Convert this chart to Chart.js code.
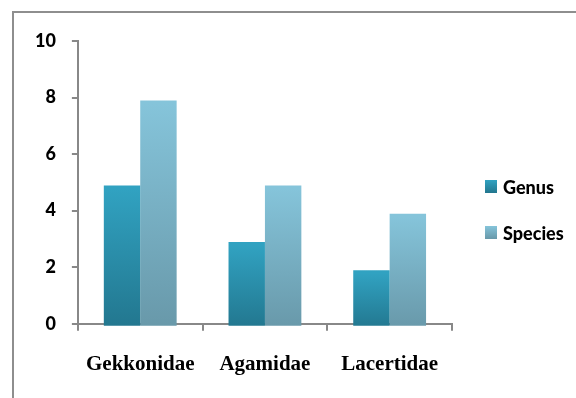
<!DOCTYPE html>
<html>
<head>
<meta charset="utf-8">
<script src="https://cdn.jsdelivr.net/npm/chart.js@4.4.1/dist/chart.umd.min.js"></script>
<style>
html,body{margin:0;padding:0;background:#fff;overflow:hidden;}
#wrap{position:relative;width:576px;height:398px;overflow:hidden;}
#frame{position:absolute;left:12px;top:11px;width:700px;height:600px;border:2px solid #8e8e8e;box-sizing:border-box;}
canvas{position:absolute;left:0;top:0;}
</style>
</head>
<body>
<div id="wrap">
<div id="frame"></div>
<canvas id="c" width="576" height="398"></canvas>
</div>
<script>
const categories = ["Gekkonidae", "Agamidae", "Lacertidae"];
const genusValues = [5, 3, 2];
const speciesValues = [8, 5, 4];
const yTicks = [0, 2, 4, 6, 8, 10];
const seriesNames = ["Genus", "Species"];
const seriesColors = [['#31a2c1', '#22768e'], ['#85c4da', '#6898a9']];

function barGradient(top, bottom) {
  return function(ctx) {
    const chart = ctx.chart;
    const ys = chart.scales && chart.scales.y;
    if (!ys || ctx.type !== 'data') return top;
    const v = ctx.parsed ? ctx.parsed.y : ctx.raw;
    const y0 = ys.getPixelForValue(0);
    const y1 = ys.getPixelForValue(v);
    if (!isFinite(y0) || !isFinite(y1) || y0 === y1) return top;
    const g = chart.ctx.createLinearGradient(0, y1 + 3, 0, y0 + 3);
    g.addColorStop(0, top);
    g.addColorStop(1, bottom);
    return g;
  };
}

const shiftBars = {
  id: 'shiftBars',
  beforeDatasetsDraw(chart) { chart.ctx.save(); chart.ctx.translate(0, 3); },
  afterDatasetsDraw(chart) { chart.ctx.restore(); }
};

const sideLegend = {
  id: 'sideLegend',
  afterDraw(chart) {
    const ctx = chart.ctx;
    ctx.save();
    ctx.font = '900 18px Lato';
    ctx.textBaseline = 'middle';
    ctx.textAlign = 'left';
    chart.data.datasets.forEach((ds, i) => {
      const bx = chart.chartArea.right + 33;
      const by = 180 + 46 * i;
      const g = ctx.createLinearGradient(0, by, 0, by + 13);
      g.addColorStop(0, seriesColors[i][0]);
      g.addColorStop(1, seriesColors[i][1]);
      ctx.fillStyle = g;
      ctx.fillRect(bx, by, 12, 13);
      ctx.fillStyle = '#000';
      ctx.fillText(ds.label, bx + 18, by + 8);
    });
    ctx.restore();
  }
};

const axisGray = '#888888';

new Chart(document.getElementById('c'), {
  type: 'bar',
  data: {
    labels: categories,
    datasets: [
      { label: seriesNames[0], data: genusValues,
        backgroundColor: barGradient(seriesColors[0][0], seriesColors[0][1]),
        borderWidth: 0 },
      { label: seriesNames[1], data: speciesValues,
        backgroundColor: barGradient(seriesColors[1][0], seriesColors[1][1]),
        borderWidth: 0 }
    ]
  },
  options: {
    responsive: false,
    animation: false,
    layout: { padding: { left: 19, top: 41, right: 124, bottom: 0 } },
    datasets: { bar: { barPercentage: 1, categoryPercentage: 0.584 } },
    plugins: {
      tooltip: { enabled: false },
      legend: { display: false }
    },
    scales: {
      x: {
        grid: { display: true, drawOnChartArea: false, drawTicks: true, tickLength: 7, color: axisGray, lineWidth: 2 },
        border: { display: true, color: axisGray, width: 2 },
        ticks: { color: '#000', padding: 21, font: { family: 'Liberation Serif', size: 21, weight: 'bold' } }
      },
      y: {
        min: 0, max: 10,
        afterBuildTicks(scale) { scale.ticks = yTicks.map(v => ({ value: v })); },
        grid: { display: true, drawOnChartArea: false, drawTicks: true, tickLength: 6, color: axisGray, lineWidth: 2 },
        border: { display: true, color: axisGray, width: 2 },
        ticks: { color: '#000', padding: 16, font: { family: 'Lato', size: 18, weight: '900' } }
      }
    }
  },
  plugins: [shiftBars, sideLegend]
});
</script>
</body>
</html>
